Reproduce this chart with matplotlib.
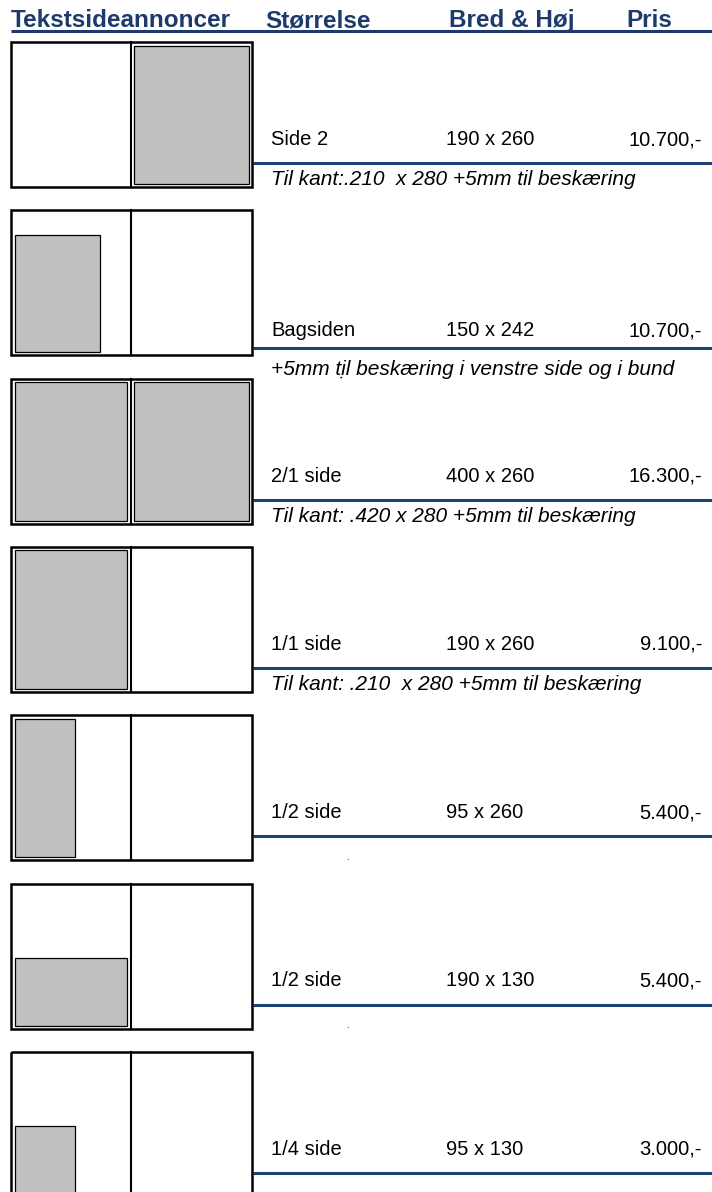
"""
Ad price table (Tekstsideannoncer) redrawn with matplotlib.
Each row: a small spread thumbnail with the ad area in grey,
then name / size / price and an italic note under a blue rule.
"""
import matplotlib

matplotlib.use("Agg")
import matplotlib.pyplot as plt
from matplotlib.patches import Rectangle

plt.rcParams["font.family"] = ["Liberation Sans", "DejaVu Sans"]

# ---------------------------------------------------------------------------
# table content
# ---------------------------------------------------------------------------
HEADERS = ["Tekstsideannoncer", "Størrelse", "Bred & Høj", "Pris"]
NAMES = ["Side 2", "Bagsiden", "2/1 side", "1/1 side", "1/2 side", "1/2 side", "1/4 side"]
SIZES = ["190 x 260", "150 x 242", "400 x 260", "190 x 260", "95 x 260", "190 x 130", "95 x 130"]
PRICES = ["10.700,-", "10.700,-", "16.300,-", "9.100,-", "5.400,-", "5.400,-", "3.000,-"]
NOTES = [
    "Til kant:.210  x 280 +5mm til beskæring",
    "+5mm til\u0323 beskæring i venstre side og i bund",
    "Til kant: .420 x 280 +5mm til beskæring",
    "Til kant: .210  x 280 +5mm til beskæring",
    ".",
    ".",
    "",
]
# ad area on the thumbnail: which page(s), share of page width / height
AD_PAGES = ["R", "L", "LR", "L", "L", "L", "L"]
AD_W = [1.0, 0.76, 1.0, 1.0, 0.54, 1.0, 0.54]
AD_H = [1.0, 0.85, 1.0, 1.0, 1.0, 0.49, 0.49]

# ---------------------------------------------------------------------------
# layout (pixels, y downwards)
# ---------------------------------------------------------------------------
W, H = 712, 1192
HEAD_X = [11, 265, 449, 626]
HEAD_Y = 27
ROW0, PITCH, BOX_H = 42, 168.3, 145
BOX_X0, BOX_X1, DIV_X = 11, 252, 130.5
PAGE_X = {"L": (14.5, 127.0), "R": (134.0, 248.5)}
INSET_TOP, INSET_BOT = 3.5, 142.0
COL_X = [271, 446, 702]
RULE_X = (253, 712)
DOT_X = 347
# (text baseline, blue rule, note baseline) offsets from box top
OFFS_DEFAULT = (103, 121, 143)
OFFS_SPECIAL = {1: (126, 138, 165)}

NAVY = "#1c3a6b"
RULE_BLUE = "#1d4275"
GREY = "#c0c0c0"
BODY_FS = 14.5
NOTE_FS = 15
HEAD_FS = 17.5


def draw_thumb(ax, top, pages, w_share, h_share):
    ax.add_patch(Rectangle((BOX_X0, top), BOX_X1 - BOX_X0, BOX_H,
                           fill=False, ec="black", lw=1.8, zorder=3))
    ax.plot([DIV_X, DIV_X], [top, top + BOX_H], color="black", lw=1.5, zorder=3)
    y_top, y_bot = top + INSET_TOP, top + INSET_BOT
    for p in pages:
        x0, x1 = PAGE_X[p]
        w = (x1 - x0) * w_share
        h = (y_bot - y_top) * h_share
        ax.add_patch(Rectangle((x0, y_bot - h), w, h, fc=GREY, ec="black",
                               lw=0.9, zorder=2))


def main():
    fig = plt.figure(figsize=(W / 100, H / 100), dpi=100)
    ax = fig.add_axes([0, 0, 1, 1])
    ax.set_xlim(0, W)
    ax.set_ylim(H, 0)
    ax.axis("off")

    # header
    for x, label in zip(HEAD_X, HEADERS):
        ax.text(x, HEAD_Y, label, fontsize=HEAD_FS, fontweight="bold",
                color=NAVY, ha="left", va="baseline")
    ax.plot([11, W], [31, 31], color=NAVY, lw=2.2, solid_capstyle="butt")

    for i, name in enumerate(NAMES):
        top = ROW0 + i * PITCH
        dt, dl, dn = OFFS_SPECIAL.get(i, OFFS_DEFAULT)
        draw_thumb(ax, top, AD_PAGES[i], AD_W[i], AD_H[i])

        ax.text(COL_X[0], top + dt, name, fontsize=BODY_FS, ha="left", va="baseline")
        ax.text(COL_X[1], top + dt, SIZES[i], fontsize=BODY_FS, ha="left", va="baseline")
        ax.text(COL_X[2], top + dt, PRICES[i], fontsize=BODY_FS, ha="right", va="baseline")

        ax.plot(RULE_X, [top + dl, top + dl], color=RULE_BLUE, lw=2.2,
                solid_capstyle="butt")

        note = NOTES[i]
        if note == ".":
            # lone stray dot where the note would be
            ax.text(DOT_X, top + dn + 1.5, note, fontsize=7, ha="center", va="baseline")
        elif note:
            ax.text(COL_X[0], top + dn, note, fontsize=NOTE_FS, style="italic",
                    ha="left", va="baseline")

    fig.savefig("out.png", dpi=100)
    plt.close(fig)


if __name__ == "__main__":
    main()
